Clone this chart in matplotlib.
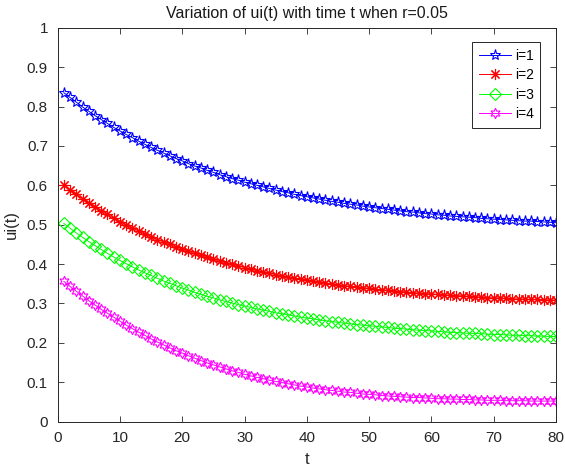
import matplotlib
matplotlib.use("Agg")
import matplotlib.pyplot as plt
from matplotlib.ticker import FormatStrFormatter

plt.rcParams['font.family'] = ['Liberation Sans', 'DejaVu Sans']

# time steps
t = list(range(1, 81))

# ui(t), one value per marker
u1 = [0.835, 0.823, 0.811, 0.799, 0.788, 0.777, 0.767, 0.757, 0.747, 0.738,
      0.729, 0.721, 0.712, 0.704, 0.696, 0.689, 0.682, 0.675, 0.668, 0.662,
      0.655, 0.649, 0.644, 0.638, 0.633, 0.627, 0.622, 0.617, 0.613, 0.608,
      0.604, 0.600, 0.596, 0.592, 0.588, 0.584, 0.581, 0.577, 0.574, 0.571,
      0.568, 0.565, 0.562, 0.559, 0.557, 0.554, 0.552, 0.550, 0.547, 0.545,
      0.543, 0.541, 0.539, 0.537, 0.535, 0.533, 0.532, 0.530, 0.528, 0.527,
      0.525, 0.524, 0.522, 0.521, 0.520, 0.519, 0.518, 0.516, 0.515, 0.514,
      0.513, 0.512, 0.511, 0.510, 0.509, 0.509, 0.508, 0.507, 0.506, 0.505]

u2 = [0.600, 0.588, 0.577, 0.566, 0.555, 0.545, 0.535, 0.526, 0.516, 0.508,
      0.499, 0.491, 0.484, 0.476, 0.469, 0.462, 0.456, 0.450, 0.443, 0.438,
      0.432, 0.427, 0.422, 0.417, 0.412, 0.407, 0.403, 0.399, 0.395, 0.391,
      0.387, 0.383, 0.380, 0.376, 0.373, 0.370, 0.367, 0.364, 0.362, 0.359,
      0.357, 0.354, 0.352, 0.350, 0.347, 0.345, 0.343, 0.342, 0.340, 0.338,
      0.336, 0.335, 0.333, 0.332, 0.330, 0.329, 0.327, 0.326, 0.325, 0.324,
      0.323, 0.322, 0.321, 0.320, 0.319, 0.318, 0.317, 0.316, 0.315, 0.314,
      0.314, 0.313, 0.312, 0.311, 0.311, 0.310, 0.310, 0.309, 0.309, 0.308]

u3 = [0.503, 0.491, 0.479, 0.468, 0.457, 0.447, 0.437, 0.427, 0.418, 0.409,
      0.401, 0.393, 0.385, 0.378, 0.371, 0.364, 0.357, 0.351, 0.345, 0.339,
      0.334, 0.328, 0.323, 0.318, 0.314, 0.309, 0.305, 0.301, 0.297, 0.293,
      0.290, 0.286, 0.283, 0.280, 0.276, 0.274, 0.271, 0.268, 0.265, 0.263,
      0.261, 0.258, 0.256, 0.254, 0.252, 0.250, 0.248, 0.246, 0.245, 0.243,
      0.242, 0.240, 0.239, 0.237, 0.236, 0.235, 0.233, 0.232, 0.231, 0.230,
      0.229, 0.228, 0.226, 0.226, 0.225, 0.224, 0.224, 0.223, 0.222, 0.221,
      0.221, 0.220, 0.219, 0.219, 0.218, 0.218, 0.217, 0.217, 0.216, 0.216]

u4 = [0.356, 0.343, 0.331, 0.319, 0.307, 0.296, 0.285, 0.275, 0.265, 0.255,
      0.245, 0.236, 0.227, 0.219, 0.210, 0.202, 0.195, 0.187, 0.180, 0.174,
      0.167, 0.161, 0.155, 0.149, 0.144, 0.139, 0.134, 0.129, 0.125, 0.120,
      0.116, 0.112, 0.109, 0.105, 0.102, 0.099, 0.096, 0.093, 0.090, 0.088,
      0.085, 0.083, 0.081, 0.079, 0.077, 0.075, 0.074, 0.072, 0.070, 0.069,
      0.068, 0.066, 0.065, 0.064, 0.063, 0.062, 0.061, 0.061, 0.060, 0.059,
      0.058, 0.058, 0.057, 0.057, 0.056, 0.056, 0.055, 0.055, 0.054, 0.054,
      0.054, 0.053, 0.053, 0.053, 0.053, 0.052, 0.052, 0.052, 0.052, 0.052]

series = [u1, u2, u3, u4]
labels = ['i=1', 'i=2', 'i=3', 'i=4']
colors = ['#0000ff', '#ff0000', '#00ff00', '#ff00ff']
# MATLAB-like markers: pentagram, asterisk, diamond, hexagram
markers = ['*', (8, 2, 0), 'D', (6, 1, 0)]
msizes = [8, 8, 6.5, 7.5]

fig = plt.figure(figsize=(5.65, 4.71), dpi=100)
ax = fig.add_axes([0.102, 0.105, 0.882, 0.836])

for u, lab, c, m, ms in zip(series, labels, colors, markers, msizes):
    ax.plot(t, u, color=c, marker=m, markersize=ms, linewidth=0.7,
            markerfacecolor='none', markeredgewidth=0.8, label=lab)

ax.set_xlim(0, 80)
ax.set_ylim(0, 1)
ax.set_xticks(range(0, 81, 10))
ax.set_yticks([i / 10 for i in range(11)])
ax.yaxis.set_major_formatter(FormatStrFormatter('%g'))

gray = '#262626'
ax.tick_params(direction='in', top=True, right=True, length=4, width=0.6,
               labelsize=11, colors=gray)
ax.tick_params(axis='x', pad=7)
ax.tick_params(axis='y', pad=7)
for s in ax.spines.values():
    s.set_linewidth(0.7)
    s.set_color(gray)

ax.set_xlabel('t', fontsize=12, color=gray, labelpad=5)
ax.set_ylabel('ui(t)', fontsize=12, color=gray, labelpad=6)
ax.set_title('Variation of ui(t) with time t when r=0.05', fontsize=11.5,
             color='#1a1a1a', pad=7)

leg = ax.legend(loc='upper right', bbox_to_anchor=(0.968, 0.963),
                fontsize=10, fancybox=False, framealpha=1,
                edgecolor=gray, handlelength=2.3, borderaxespad=0,
                labelspacing=0.4, handletextpad=0.3, borderpad=0.45)
leg.get_frame().set_linewidth(0.7)

fig.savefig('out.png', dpi=100)
